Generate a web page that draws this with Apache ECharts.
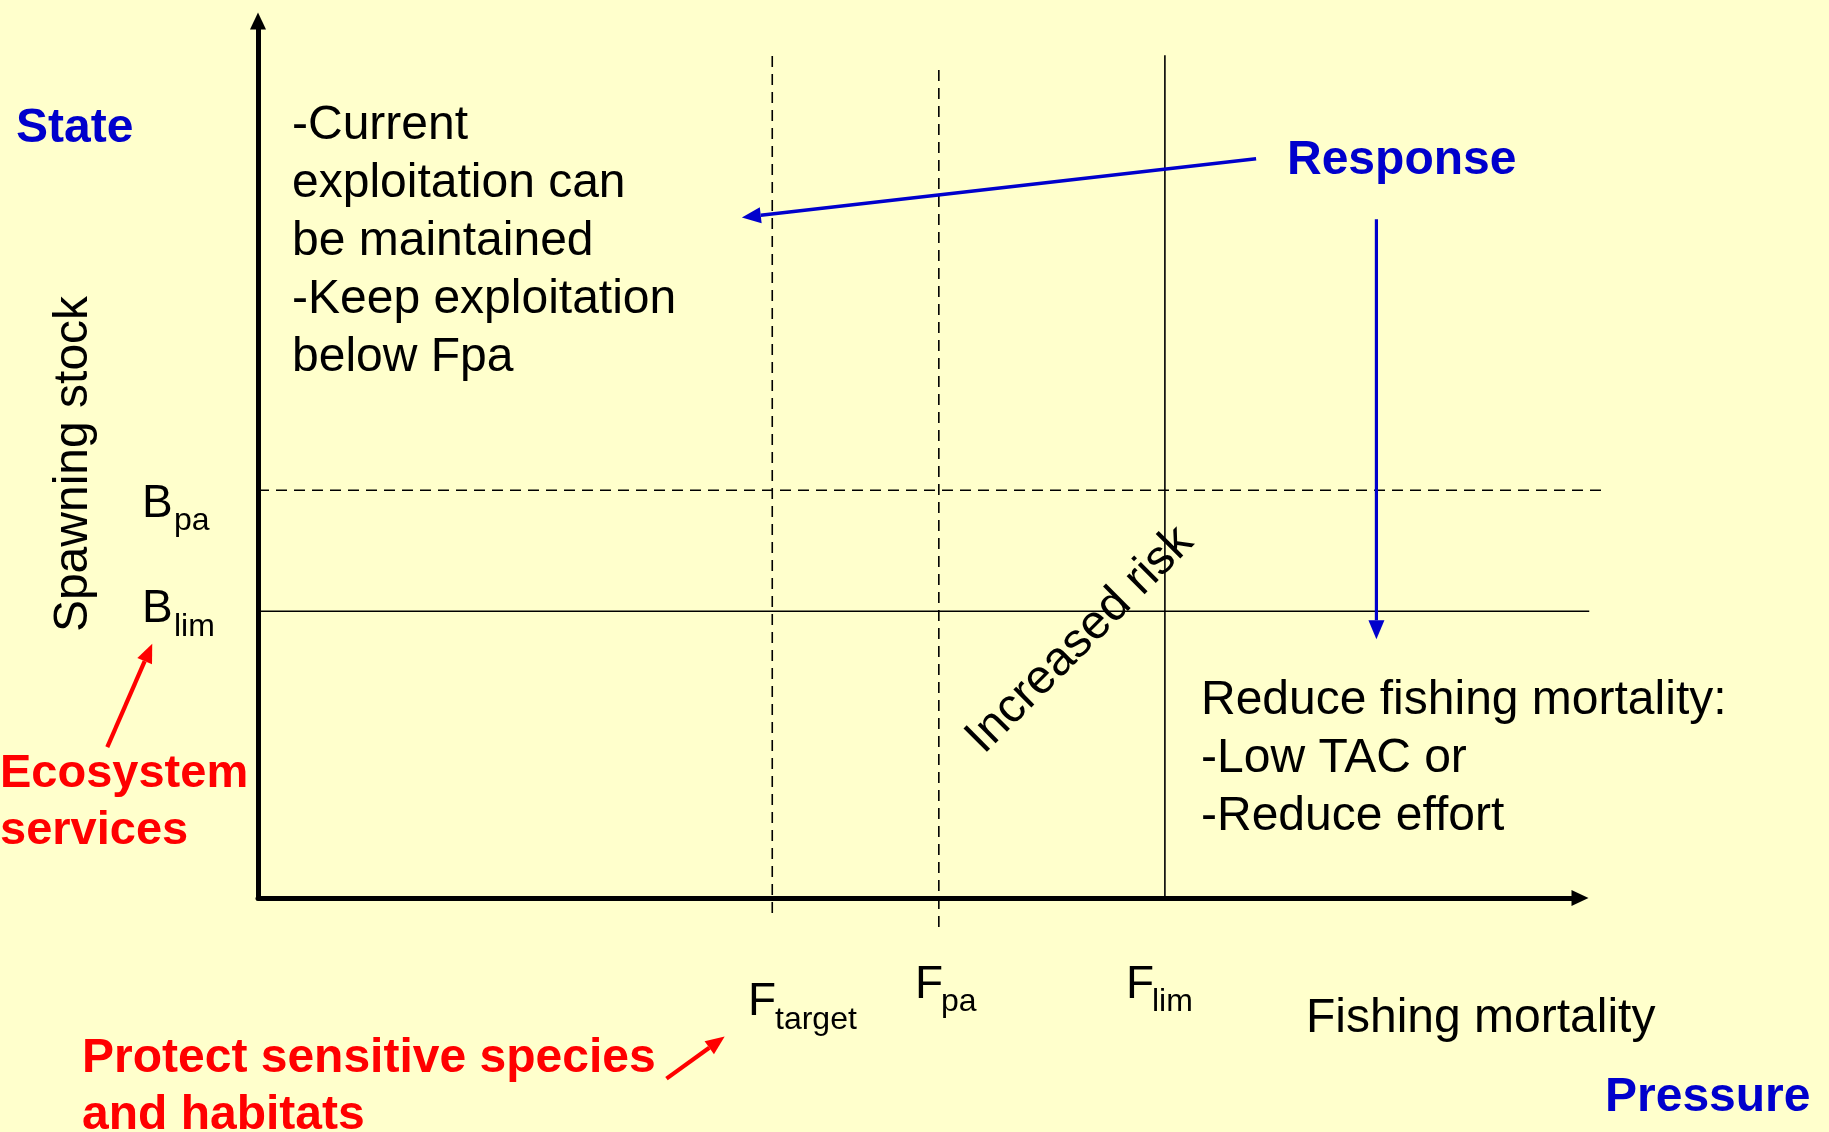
<!DOCTYPE html>
<html>
<head>
<meta charset="utf-8">
<title>Fishing mortality vs spawning stock</title>
<script src="https://cdn.jsdelivr.net/npm/echarts@6/dist/echarts.min.js"></script>
<style>
  html, body { margin: 0; padding: 0; background: #ffffcc; }
  #main { width: 1829px; height: 1132px; }
</style>
</head>
<body>
<div id="main"></div>
<script>
// reference points, on a 0-100 scale of each axis
var fNames = ['target', 'pa', 'lim'];
var fValues = [38.9, 51.5, 68.6];
var bNames = ['pa', 'lim'];
var bValues = [46.5, 32.7];

var FONT = '"Liberation Sans", Arial, sans-serif';
var BLUE = '#0000cc';
var RED = '#ff0000';

// how far each reference line runs (in axis units) and whether it is dashed
var fSpan = [[-1.7, 96.1], [-3.3, 94.6], [0, 96.1]];
var fDashed = [true, true, false];
var bEnd = [102, 100.7];
var bDashed = [true, false];

// annotation arrows, from -> to, in axis units
var arrows = [
  [75.5, 84.3, 36.6, 77.6],
  [84.6, 77.4, 84.6, 29.5],
  [-11.4, 17.2, -8.0, 29.0],
  [30.9, -20.6, 35.3, -15.8]
];
var arrowColors = [BLUE, BLUE, RED, RED];
var arrowWidths = [3.6, 3.2, 4.2, 4.2];

var chart = echarts.init(document.getElementById('main'));

function dashStyle(dashed) {
  return { stroke: '#000', lineWidth: 1.6, lineDash: dashed ? [11, 7] : null };
}

function renderF(params, api) {
  var i = params.dataIndex;
  var v = api.value(0);
  var a = api.coord([v, fSpan[i][0]]);
  var b = api.coord([v, fSpan[i][1]]);
  return {
    type: 'line',
    shape: { x1: a[0], y1: a[1], x2: b[0], y2: b[1] },
    style: dashStyle(fDashed[i])
  };
}

function renderB(params, api) {
  var i = params.dataIndex;
  var v = api.value(1);
  var a = api.coord([0, v]);
  var b = api.coord([bEnd[i], v]);
  return {
    type: 'line',
    shape: { x1: a[0], y1: a[1], x2: b[0], y2: b[1] },
    style: dashStyle(bDashed[i])
  };
}

function renderArrow(params, api) {
  var p1 = api.coord([api.value(0), api.value(1)]);
  var p2 = api.coord([api.value(2), api.value(3)]);
  var color = arrowColors[params.dataIndex];
  var ang = Math.atan2(p2[1] - p1[1], p2[0] - p1[0]);
  var len = 19, half = 8;
  var bx = p2[0] - len * Math.cos(ang);
  var by = p2[1] - len * Math.sin(ang);
  var nx = -Math.sin(ang) * half;
  var ny = Math.cos(ang) * half;
  return {
    type: 'group',
    children: [
      {
        type: 'line',
        shape: { x1: p1[0], y1: p1[1], x2: bx, y2: by },
        style: { stroke: color, lineWidth: arrowWidths[params.dataIndex] }
      },
      {
        type: 'polygon',
        shape: { points: [[p2[0], p2[1]], [bx + nx, by + ny], [bx - nx, by - ny]] },
        style: { fill: color }
      }
    ]
  };
}

function txt(text, x, y, size, color, opts) {
  opts = opts || {};
  return {
    type: 'text',
    x: x,
    y: y,
    rotation: opts.rotation || 0,
    silent: true,
    style: {
      text: text,
      fill: color,
      font: (opts.bold ? 'bold ' : '') + size + 'px ' + FONT,
      align: opts.align || 'left',
      verticalAlign: opts.valign || 'middle',
      lineHeight: opts.lineHeight
    }
  };
}

var option = {
  backgroundColor: '#ffffcc',
  animation: false,
  grid: { left: 258, right: 249, top: 21, bottom: 234 },
  xAxis: {
    type: 'value',
    min: 0,
    max: 100,
    axisLine: {
      show: true,
      onZero: false,
      symbol: ['none', 'triangle'],
      symbolSize: [16, 17],
      lineStyle: { color: '#000', width: 5 }
    },
    axisTick: { show: false },
    axisLabel: { show: false },
    splitLine: { show: false }
  },
  yAxis: {
    type: 'value',
    min: 0,
    max: 100,
    axisLine: {
      show: true,
      onZero: false,
      symbol: ['none', 'triangle'],
      symbolSize: [16, 17],
      lineStyle: { color: '#000', width: 5 }
    },
    axisTick: { show: false },
    axisLabel: { show: false },
    splitLine: { show: false }
  },
  series: [
    {
      name: 'F reference',
      type: 'custom',
      silent: true,
      clip: false,
      renderItem: renderF,
      data: fValues.map(function (v) { return [v, 0]; })
    },
    {
      name: 'B reference',
      type: 'custom',
      silent: true,
      clip: false,
      renderItem: renderB,
      data: bValues.map(function (v) { return [0, v]; })
    },
    {
      name: 'arrows',
      type: 'custom',
      silent: true,
      clip: false,
      renderItem: renderArrow,
      data: arrows
    }
  ],
  graphic: {
    elements: [
      txt('State', 16, 129, 48, BLUE, { bold: true }),
      txt('Response', 1287, 161, 48, BLUE, { bold: true }),
      txt('Pressure', 1605, 1098, 48, BLUE, { bold: true }),
      txt('-Current\nexploitation can\nbe maintained\n-Keep exploitation\nbelow Fpa', 292, 97, 48, '#000',
        { valign: 'top', lineHeight: 58 }),
      txt('Reduce fishing mortality:\n-Low TAC or\n-Reduce effort', 1201, 672, 48, '#000',
        { valign: 'top', lineHeight: 58 }),
      txt('Fishing mortality', 1306, 1019, 48, '#000'),
      txt('Spawning stock', 74, 464, 48, '#000', { align: 'center', rotation: Math.PI / 2 }),
      txt('Increased risk', 1080, 640, 48, '#000', { align: 'center', rotation: Math.PI / 4 }),
      txt('Ecosystem\nservices', 0, 746, 47, RED, { bold: true, valign: 'top', lineHeight: 57 }),
      txt('Protect sensitive species\nand habitats', 82, 1030, 48, RED, { bold: true, valign: 'top', lineHeight: 57 }),
      // B labels
      txt('B', 142, 504, 46, '#000'),
      txt(bNames[0], 174, 521, 32, '#000'),
      txt('B', 142, 609, 46, '#000'),
      txt(bNames[1], 174, 627, 32, '#000'),
      // F labels
      txt('F', 748, 1002, 46, '#000'),
      txt(fNames[0], 775, 1020, 32, '#000'),
      txt('F', 915, 985, 46, '#000'),
      txt(fNames[1], 941, 1002, 32, '#000'),
      txt('F', 1126, 985, 46, '#000'),
      txt(fNames[2], 1152, 1002, 32, '#000')
    ]
  }
};

chart.setOption(option);
</script>
</body>
</html>
